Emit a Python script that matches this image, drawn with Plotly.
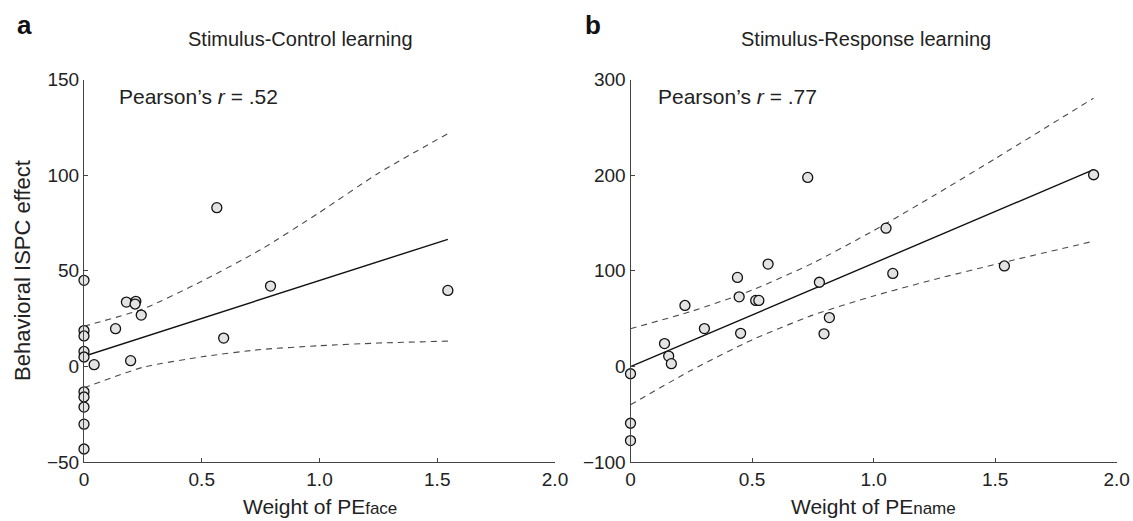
import numpy as np
import plotly.graph_objects as go

# ---------------- data ----------------
# Panel a: Stimulus-Control learning
a_x = [0, 0, 0, 0, 0, 0, 0, 0, 0, 0,
       0.18, 0.22, 0.217, 0.243, 0.134, 0.043, 0.198, 0.593, 0.564, 0.792, 1.545]
a_y = [45, 18.7, 15.9, 7.8, 4.9, -13.3, -16, -21.3, -30.2, -43.2,
       33.6, 34, 32.6, 26.8, 19.7, 0.9, 3, 14.8, 83, 42, 39.7]
a_band_x = [0, 0.25, 0.5, 0.75, 1.0, 1.25, 1.545]
a_band_upper = [21, 30, 44.5, 61, 80.5, 101, 121.7]
a_band_lower = [-11.2, -0.5, 5, 8.8, 10.8, 12.2, 13.2]

# Panel b: Stimulus-Response learning
b_x = [0, 0, 0, 0.14, 0.157, 0.168, 0.224, 0.304, 0.44, 0.447, 0.453, 0.515,
       0.528, 0.566, 0.729, 0.777, 0.796, 0.818, 1.051, 1.079, 1.538, 1.905]
b_y = [-7.7, -59.5, -77.6, 23.8, 10.8, 2.8, 63.7, 39.5, 93, 72.7, 34.6, 69,
       69, 107, 197.6, 88, 34, 51, 144.5, 97.2, 105, 200.4]
b_band_x = [0, 0.25, 0.5, 0.75, 1.0, 1.25, 1.5, 1.905]
b_band_upper = [39.4, 57.5, 79.7, 108, 142, 178.9, 217.2, 280.5]
b_band_lower = [-40.2, -4.1, 27.7, 53.6, 73.6, 90.9, 106.6, 130.9]

x_tickvals = [0, 0.5, 1.0, 1.5, 2.0]
x_ticktext = ["0", "0.5", "1.0", "1.5", "2.0"]
a_y_tickvals = [-50, 0, 50, 100, 150]
a_y_ticktext = ["\u221250", "0", "50", "100", "150"]
b_y_tickvals = [-100, 0, 100, 200, 300]
b_y_ticktext = ["\u2212100", "0", "100", "200", "300"]

titles = ["Stimulus-Control learning", "Stimulus-Response learning"]
r_labels = ["Pearson\u2019s <i>r</i> = .52", "Pearson\u2019s <i>r</i> = .77"]
panel_letters = ["a", "b"]
x_titles = ["Weight of PE<span style='font-size:17px'>face</span>",
            "Weight of PE<span style='font-size:17px'>name</span>"]
y_title = "Behavioral ISPC effect"

# ---------------- figure ----------------
W, H = 1133, 521
FONT = "Liberation Sans, Arial, Helvetica, sans-serif"


def fx(p):
    return p / W


def fy(p):
    return 1 - p / H


fig = go.Figure()


def add_panel(xs, ys, bx, bu, bl, xa, ya):
    slope, icpt = np.polyfit(xs, ys, 1)
    lx = np.array([min(xs), max(xs)])
    ly = icpt + slope * lx
    dash_style = dict(color="#4a4a4a", width=1.1, dash="6px,5px", shape="spline", smoothing=0.6)
    fig.add_trace(go.Scatter(x=bx, y=bu, mode="lines", line=dash_style,
                             xaxis=xa, yaxis=ya, hoverinfo="skip"))
    fig.add_trace(go.Scatter(x=bx, y=bl, mode="lines", line=dash_style,
                             xaxis=xa, yaxis=ya, hoverinfo="skip"))
    fig.add_trace(go.Scatter(x=lx, y=ly, mode="lines",
                             line=dict(color="#111111", width=1.4),
                             xaxis=xa, yaxis=ya, hoverinfo="skip"))
    fig.add_trace(go.Scatter(x=xs, y=ys, mode="markers", cliponaxis=False,
                             marker=dict(size=10, color="#e3e3e3",
                                         line=dict(color="#111111", width=1.3)),
                             xaxis=xa, yaxis=ya))


add_panel(a_x, a_y, a_band_x, a_band_upper, a_band_lower, "x", "y")
add_panel(b_x, b_y, b_band_x, b_band_upper, b_band_lower, "x2", "y2")

axis_common = dict(showgrid=False, zeroline=False, showline=True, linecolor="#444444",
                   linewidth=1, ticks="inside", ticklen=4, tickcolor="#444444",
                   tickwidth=1, automargin=False,
                   tickfont=dict(family=FONT, size=19, color="#222222"))

y_dom = [fy(462), fy(79.5)]
fig.update_layout(
    width=W, height=H, autosize=False,
    margin=dict(l=0, r=0, t=0, b=0, pad=0),
    paper_bgcolor="white", plot_bgcolor="white",
    showlegend=False,
    xaxis=dict(domain=[fx(84), fx(555)], range=[0, 2], anchor="y",
               tickvals=x_tickvals, ticktext=x_ticktext, **axis_common),
    yaxis=dict(domain=y_dom, range=[-50, 150], anchor="x",
               tickvals=a_y_tickvals, ticktext=a_y_ticktext, **axis_common),
    xaxis2=dict(domain=[fx(630.5), fx(1116.7)], range=[0, 2], anchor="y2",
                tickvals=x_tickvals, ticktext=x_ticktext, **axis_common),
    yaxis2=dict(domain=y_dom, range=[-100, 300], anchor="x2",
                tickvals=b_y_tickvals, ticktext=b_y_ticktext, **axis_common),
)

ann = []
# panel letters
for letter, px in zip(panel_letters, [15, 583]):
    ann.append(dict(text=f"<b>{letter}</b>", x=fx(px), y=fy(25), xref="paper", yref="paper",
                    xanchor="left", yanchor="middle", showarrow=False,
                    font=dict(family=FONT, size=26, color="#111111")))
# titles
for t, px in zip(titles, [186, 739]):
    ann.append(dict(text=t, x=fx(px), y=fy(39), xref="paper", yref="paper",
                    xanchor="left", yanchor="middle", showarrow=False,
                    font=dict(family=FONT, size=20, color="#222222")))
# pearson labels
for t, px in zip(r_labels, [117, 656]):
    ann.append(dict(text=t, x=fx(px), y=fy(96), xref="paper", yref="paper",
                    xanchor="left", yanchor="middle", showarrow=False,
                    font=dict(family=FONT, size=21, color="#222222")))
# x-axis titles
for t, px in zip(x_titles, [319.5, 873.6]):
    ann.append(dict(text=t, x=fx(px), y=fy(506), xref="paper", yref="paper",
                    xanchor="center", yanchor="middle", showarrow=False,
                    font=dict(family=FONT, size=21, color="#222222")))
# y-axis title
ann.append(dict(text=y_title, x=fx(22), y=fy(271), xref="paper", yref="paper",
                xanchor="center", yanchor="middle", showarrow=False, textangle=-90,
                font=dict(family=FONT, size=22, color="#222222")))

fig.update_layout(annotations=ann)
fig.write_html(
    "out.html",
    config={"displayModeBar": False},
    post_script="document.body.style.margin='0';document.body.style.overflow='hidden';",
)
